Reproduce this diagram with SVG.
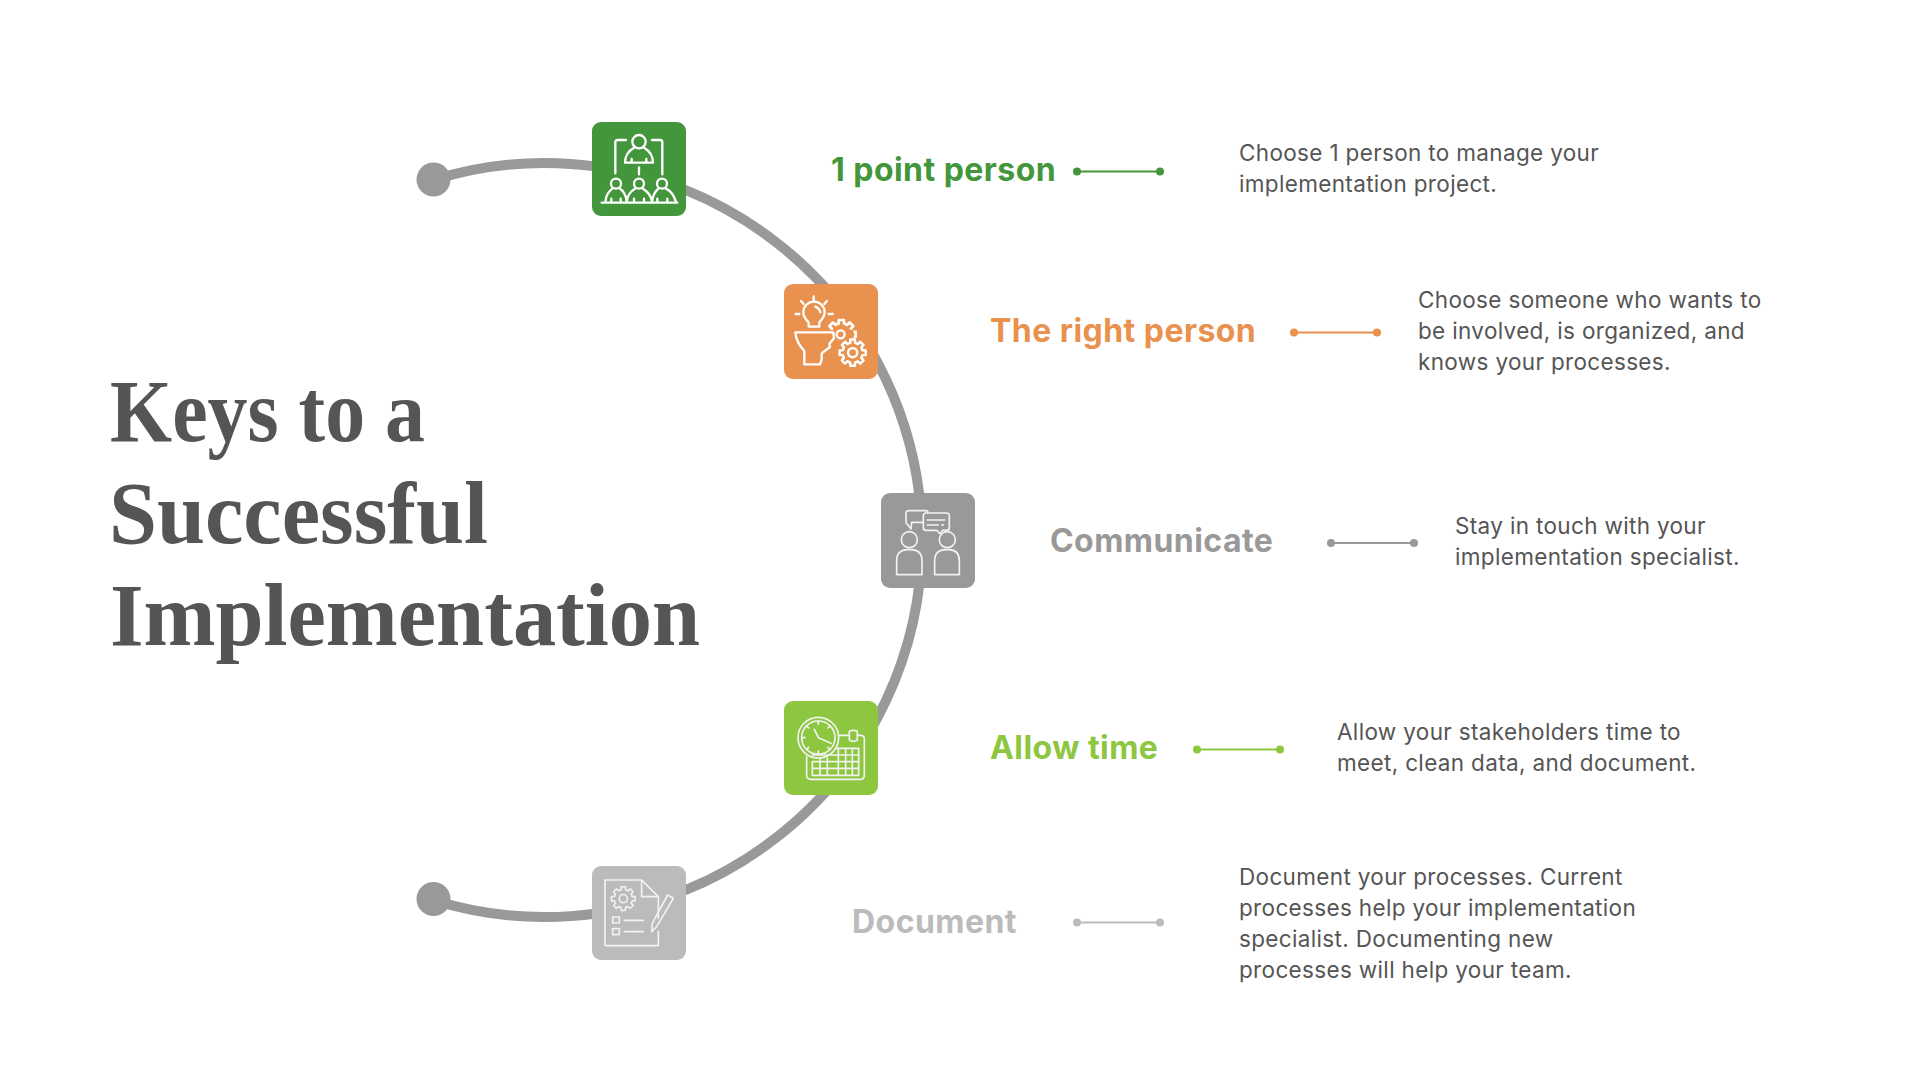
<svg xmlns="http://www.w3.org/2000/svg" width="1920" height="1080" viewBox="0 0 1920 1080">
<style>
text{font-family:Inter,"Liberation Sans",sans-serif}
.title{font-family:"Liberation Serif",serif;font-weight:700;font-size:88px;fill:#555}
.label{font-size:32px;font-weight:700;letter-spacing:.45px}
.desc{font-size:22.5px;fill:#555;letter-spacing:.34px}
.box{stroke:none}
.ic{fill:none;stroke:#fff;stroke-width:7;stroke-linecap:round;stroke-linejoin:round}
.thin{fill:none;stroke:#f2f2f2;stroke-width:5;stroke-linecap:round;stroke-linejoin:round}
.arc{fill:none;stroke:#999;stroke-width:10}
.ln{stroke-width:2}
.dot{stroke:none}
</style>
<defs>
<path id="tooth" d="M28.100-7L37.400-6.600V6.600L28.100 7A29 29 0 0 1 24.800 14.900"/>
<g id="teeth"><use href="#tooth"/><use href="#tooth" transform="rotate(45)"/><use href="#tooth" transform="rotate(90)"/><use href="#tooth" transform="rotate(135)"/><use href="#tooth" transform="rotate(180)"/><use href="#tooth" transform="rotate(225)"/><use href="#tooth" transform="rotate(270)"/><use href="#tooth" transform="rotate(315)"/></g>
<g id="gear"><use href="#teeth"/><circle r="13"/></g>
<clipPath id="topgear"><path d="M-50-60H60V14H32V-12H-50Z"/></clipPath>
</defs>
<rect width="1920" height="1080" fill="#fff"/>
<g id="connectors">
<path class="arc" d="M433 180A377 377 0 1 1 433 900"/>
<circle cx="433.500" cy="179.500" r="17" fill="#999"/>
<circle cx="433.500" cy="899" r="17" fill="#999"/>
<g stroke="#43963b" fill="#43963b"><line class="ln" x1="1077" y1="171.500" x2="1160" y2="171.500"/><circle class="dot" cx="1077" cy="171.500" r="4"/><circle class="dot" cx="1160" cy="171.500" r="4"/></g>
<g stroke="#e9914f" fill="#e9914f"><line class="ln" x1="1294" y1="332.500" x2="1377" y2="332.500"/><circle class="dot" cx="1294" cy="332.500" r="4"/><circle class="dot" cx="1377" cy="332.500" r="4"/></g>
<g stroke="#999" fill="#999"><line class="ln" x1="1331" y1="543" x2="1414" y2="543"/><circle class="dot" cx="1331" cy="543" r="4"/><circle class="dot" cx="1414" cy="543" r="4"/></g>
<g stroke="#8dc63f" fill="#8dc63f"><line class="ln" x1="1197" y1="749.500" x2="1280" y2="749.500"/><circle class="dot" cx="1197" cy="749.500" r="4"/><circle class="dot" cx="1280" cy="749.500" r="4"/></g>
<g stroke="#bbb" fill="#bbb"><line class="ln" x1="1077" y1="922.500" x2="1160" y2="922.500"/><circle class="dot" cx="1077" cy="922.500" r="4"/><circle class="dot" cx="1160" cy="922.500" r="4"/></g>
</g>
<g id="title">
<text class="title" x="110" y="441" textLength="315" lengthAdjust="spacingAndGlyphs">Keys to a</text>
<text class="title" x="109" y="543" textLength="379" lengthAdjust="spacingAndGlyphs">Successful</text>
<text class="title" x="110" y="645" textLength="590" lengthAdjust="spacingAndGlyphs">Implementation</text>
</g>
<g id="node-point-person">
<rect class="box" x="592" y="122" width="94" height="94" rx="9" fill="#43963b"/>
<g class="ic" transform="translate(570 110) scale(.3333)">
<circle cx="207" cy="95" r="20"/>
<path d="M165 158H249C249 138 238 122 222 113M192 113C176 122 165 138 165 158M185 147V158M229 147V158"/>
<path d="M136 190V97Q136 90 143 90H168M246 90H270Q277 90 277 97V193M207 172V193"/>
<circle cx="138" cy="221" r="15"/><circle cx="207" cy="221" r="15"/><circle cx="276" cy="221" r="15"/>
<path d="M106 276C108 256 116 244 127 236M150 236C160 242 168 252 170 276C172 256 184 242 195 236M219 236C232 244 244 258 246 276C248 256 256 244 265 236M288 236C300 242 312 256 318 276M95 278H322M124 266V276M152 266V276M192 266V276M222 266V276M262 266V276M292 266V276"/>
</g>
<text class="label" x="831" y="180.500" fill="#43963b">1 point person</text>
<text class="desc"><tspan x="1239" y="161">Choose 1 person to manage your</tspan><tspan x="1239" y="192">implementation project.</tspan></text>
</g>
<g id="node-right-person">
<rect class="box" x="784" y="284" width="94" height="95" rx="9" fill="#e9914f"/>
<g class="ic" transform="translate(770 275) scale(.3333)">
<path d="M116 155V142C105 132 100 124 100 112A32 32 0 0 1 164 112C164 124 158 132 148 142V155ZM136 95C144 98 149 104 151 112"/>
<path d="M131 64V76M93 78L101 87M171 78L163 87M77 117H88M176 117H188"/>
<path d="M76 172H190L192 190L178 206L180 216L155 235V254L150 268H103V228C88 212 78 196 76 172Z"/>
<use href="#teeth" transform="translate(214 178) scale(1.150)" clip-path="url(#topgear)"/>
<circle cx="212" cy="178" r="12"/>
<use href="#gear" transform="translate(248 233) scale(1.050)"/>
</g>
<text class="label" x="990" y="342" fill="#e9914f">The right person</text>
<text class="desc"><tspan x="1418" y="308">Choose someone who wants to</tspan><tspan x="1418" y="339">be involved, is organized, and</tspan><tspan x="1418" y="370">knows your processes.</tspan></text>
</g>
<g id="node-communicate">
<rect class="box" x="881" y="493" width="94" height="95" rx="9" fill="#999"/>
<g class="thin" transform="translate(870 485) scale(.3333)">
<path d="M160 112H125L123 132L112 118Q108 116 108 110V85Q108 77 116 77H168Q174 78 174 84"/>
<path d="M168 84H230Q238 84 238 92V128Q238 136 230 136H218L210 146L200 136H168Q160 136 160 128V92Q160 84 168 84Z"/>
<path d="M172 105H224M172 120H205M216 120H220"/>
<circle cx="118" cy="164" r="24"/><circle cx="232" cy="164" r="24"/>
<path d="M80 269V228Q80 194 114 194H122Q156 194 156 228V269ZM194 269V228Q194 194 228 194H236Q268 194 268 228V269Z"/>
</g>
<text class="label" x="1050" y="551.500" fill="#999">Communicate</text>
<text class="desc"><tspan x="1455" y="534">Stay in touch with your</tspan><tspan x="1455" y="565">implementation specialist.</tspan></text>
</g>
<g id="node-allow-time">
<rect class="box" x="784" y="701" width="94" height="94" rx="9" fill="#8dc63f"/>
<g class="thin" transform="translate(770 690) scale(.3333)">
<circle cx="145" cy="143" r="61"/><circle cx="145" cy="143" r="50"/>
<path d="M133 118L145 143L183 160M145 93V103M145 183V193M95 143H105M110 108L116 114M180 108L174 114M110 178L116 172M180 178L174 172"/>
<path d="M205 136H238M262 136H272Q283 136 283 147V256Q283 268 272 268H122Q110 268 110 256V200"/>
<path d="M238 125Q238 121 250 121Q262 121 262 125V150Q250 158 238 150Z"/>
<path d="M198 175H266V256H127V215M127 235H266M127 215H266M127 195H266M150 205V256M172 205V256M205 175V256M227 175V256M247 175V256"/>
</g>
<text class="label" x="990" y="759" fill="#8dc63f">Allow time</text>
<text class="desc"><tspan x="1337" y="740">Allow your stakeholders time to</tspan><tspan x="1337" y="771">meet, clean data, and document.</tspan></text>
</g>
<g id="node-document">
<rect class="box" x="592" y="866" width="94" height="94" rx="9" fill="#bbb"/>
<g class="thin" transform="translate(575 855) scale(.3333)">
<path d="M250 190V125L200 75H90V272H250V230"/>
<path d="M200 77V125H250"/>
<use href="#gear" transform="translate(145 131) scale(.95)"/>
<rect x="113" y="186" width="20" height="18"/><rect x="113" y="221" width="20" height="18"/>
<path d="M148 196H205M148 230H205"/>
<path d="M278 120L295 130L245 215L230 230L232 205Z"/>
</g>
<text class="label" x="852" y="933" fill="#bbb">Document</text>
<text class="desc"><tspan x="1239" y="885">Document your processes. Current</tspan><tspan x="1239" y="916">processes help your implementation</tspan><tspan x="1239" y="947">specialist. Documenting new</tspan><tspan x="1239" y="978">processes will help your team.</tspan></text>
</g>
</svg>
